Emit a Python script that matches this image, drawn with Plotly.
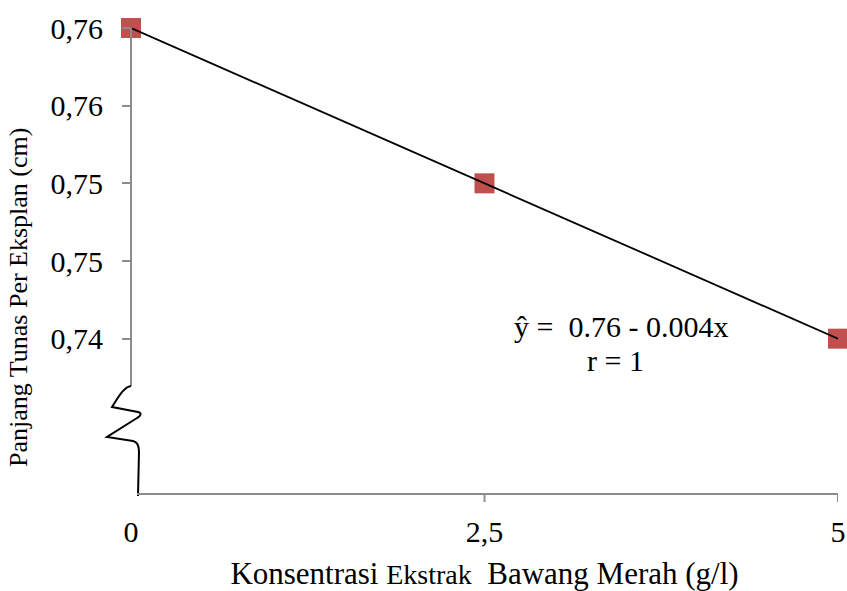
import numpy as np
import plotly.graph_objects as go

# ---- data ----
konsentrasi = [0, 2.5, 5]
panjang_tunas = [0.76, 0.75, 0.74]
x_tick_vals = [0, 2.5, 5]
x_tick_text = ["0", "2,5", "5"]
y_tick_vals = [0.74, 0.745, 0.75, 0.755, 0.76]
y_tick_text = ["0,74", "0,75", "0,75", "0,76", "0,76"]
equation_text = "ŷ =  0.76 - 0.004x"
r_text = "r = 1"
x_title = "Konsentrasi <span style='font-size:28px'>Ekstrak</span>  Bawang Merah (g/l)"
y_title = "Panjang Tunas Per Eksplan (cm)"

FONT = "Liberation Serif"
W, H = 847, 591
L, R, T, B = 131, 9, 28, 97
PW, PH = W - L - R, H - T - B
GRAY = "#8c8c8c"

def px2paper(px, py):
    return (px - L) / PW, (H - B - py) / PH

def P(px, py):
    a, b = px2paper(px, py)
    return f"{a:.5f},{b:.5f}"

slope, intercept = np.polyfit(konsentrasi, panjang_tunas, 1)
fit_x = [min(konsentrasi), max(konsentrasi)]
fit_y = [intercept + slope * v for v in fit_x]

fig = go.Figure()
fig.add_trace(go.Scatter(
    x=konsentrasi, y=panjang_tunas, mode="markers",
    marker=dict(symbol="square", size=20, color="#c0504d"),
    cliponaxis=False, showlegend=False, hoverinfo="skip"))
fig.add_trace(go.Scatter(
    x=fit_x, y=fit_y, mode="lines",
    line=dict(color="black", width=1.8),
    cliponaxis=False, showlegend=False, hoverinfo="skip"))

shapes = []
# y axis line (above the break)
shapes.append(dict(type="line", xref="paper", yref="paper",
                   x0=0, x1=0, y0=(H - B - 386) / PH, y1=1,
                   line=dict(color=GRAY, width=2)))
# axis break squiggle
path = ("M " + P(131, 386) +
        " C " + P(124, 387) + " " + P(119, 396) + " " + P(112, 407) +
        " L " + P(138, 412) +
        " C " + P(142, 413) + " " + P(141, 416) + " " + P(137, 418) +
        " L " + P(107, 437) +
        " L " + P(133, 441) +
        " C " + P(138, 442) + " " + P(139, 446) + " " + P(139, 452) +
        " L " + P(138, 496))
shapes.append(dict(type="path", xref="paper", yref="paper", path=path,
                   line=dict(color="black", width=2)))
# x axis line
shapes.append(dict(type="line", xref="paper", yref="paper",
                   x0=(137 - L) / PW, x1=1, y0=0, y1=0,
                   line=dict(color=GRAY, width=2)))
# x ticks (not at 0, where the break is)
for v in x_tick_vals[1:]:
    shapes.append(dict(type="line", xref="x", yref="paper",
                       x0=v, x1=v, y0=0, y1=-8 / PH,
                       line=dict(color=GRAY, width=2)))

eq_x, eq_y = px2paper(621, 326)
r_x, r_y = px2paper(615, 360)
yt_x, yt_y = px2paper(18, 298)

fig.update_layout(
    width=W, height=H,
    margin=dict(l=L, r=R, t=T, b=B, pad=0, autoexpand=False),
    paper_bgcolor="white", plot_bgcolor="white",
    font=dict(family=FONT, size=30, color="black"),
    shapes=shapes,
    hovermode=False,
    xaxis=dict(range=[0, 5], tickvals=x_tick_vals, ticktext=x_tick_text,
               showline=False, showgrid=False, zeroline=False, ticks="",
               automargin=False, ticklabelstandoff=17,
               tickfont=dict(family=FONT, size=30, color="black"),
               title=dict(text=x_title,
                          font=dict(family=FONT, size=31, color="black"),
                          standoff=17)),
    yaxis=dict(range=[0.73, 0.76], tickvals=y_tick_vals, ticktext=y_tick_text,
               showline=False, showgrid=False, zeroline=False,
               ticks="outside", ticklen=8, tickwidth=2, tickcolor=GRAY,
               automargin=False, ticklabelstandoff=13,
               tickfont=dict(family=FONT, size=30, color="black")),
    annotations=[
        dict(xref="paper", yref="paper", x=eq_x, y=eq_y,
             text=equation_text, showarrow=False, xanchor="center", yanchor="middle",
             font=dict(family=FONT, size=30, color="black")),
        dict(xref="paper", yref="paper", x=r_x, y=r_y,
             text=r_text, showarrow=False, xanchor="center", yanchor="middle",
             font=dict(family=FONT, size=30, color="black")),
        dict(xref="paper", yref="paper", x=yt_x, y=yt_y, textangle=-90,
             text=y_title, showarrow=False, xanchor="center", yanchor="middle",
             font=dict(family=FONT, size=26, color="black")),
    ],
)

fig.write_html("out.html", config={"displayModeBar": False},
               post_script="document.body.style.margin='0';")
